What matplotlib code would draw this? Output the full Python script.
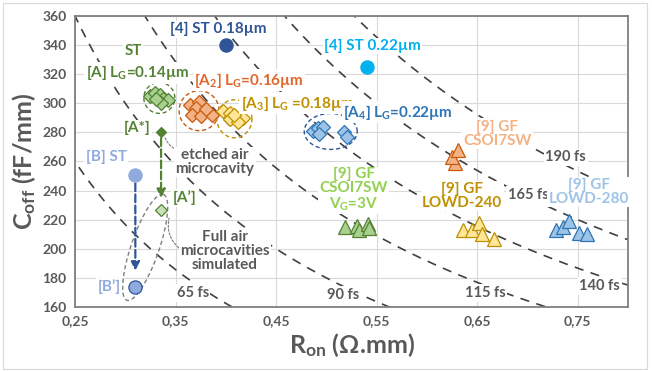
import numpy as np
import matplotlib
matplotlib.use("Agg")
import matplotlib.pyplot as plt
from matplotlib.patches import Rectangle

plt.rcParams['font.family'] = ['Lato', 'DejaVu Sans']
plt.rcParams['font.weight'] = 'bold'
plt.rcParams['axes.labelweight'] = 'bold'
plt.rcParams['mathtext.fontset'] = 'custom'
plt.rcParams['mathtext.rm'] = 'Lato:bold'
plt.rcParams['mathtext.it'] = 'Lato:bold'
plt.rcParams['mathtext.bf'] = 'Lato:bold'

# ---------------------------------------------------------------- data
tau_fs = [65, 90, 115, 140, 165, 190]
xticks = [0.25, 0.35, 0.45, 0.55, 0.65, 0.75]
xtick_labels = ["0,25", "0,35", "0,45", "0,55", "0,65", "0,75"]

A_R = [0.325, 0.330, 0.335, 0.338, 0.342, 0.336, 0.331]
A_C = [305, 307, 306, 303, 302, 300, 303]
A2_R = [0.364, 0.373, 0.370, 0.366, 0.375, 0.386, 0.380]
A2_C = [299, 301, 297, 292, 291, 292, 296]
A3_R = [0.397, 0.404, 0.411, 0.417, 0.404, 0.412, 0.408]
A3_C = [295, 293, 290, 290, 289, 287, 292]
A4_R = [0.487, 0.492, 0.497, 0.493, 0.518, 0.521]
A4_C = [281, 283, 284, 279, 280, 277]

ST18 = (0.400, 340)
ST22 = (0.540, 325)
B_ST = (0.310, 251)
B_P = (0.310, 174)
A_STAR = (0.3356, 280)
A_P = (0.3356, 227)

GF_CSOI_R = [0.628, 0.625, 0.631]
GF_CSOI_C = [259, 263, 268]
GF_VG_R = [0.519, 0.530, 0.532, 0.541, 0.542]
GF_VG_C = [215, 216, 213, 217, 214]
GF_240_R = [0.636, 0.645, 0.652, 0.655, 0.667]
GF_240_C = [213, 213, 218, 210, 207]
GF_280_R = [0.728, 0.735, 0.741, 0.751, 0.759]
GF_280_C = [213, 215, 219, 211, 210]

# ---------------------------------------------------------------- colours
DKGREEN, LTGREEN, LIMEGREEN = "#548235", "#A9D18E", "#92D050"
DKORANGE, LTORANGE = "#C55A11", "#F4B183"
DKYELLOW, LTYELLOW = "#BF9000", "#FFE699"
DKBLUE, MIDBLUE, LTBLUE = "#2F5597", "#2E75B6", "#9DC3E6"
CYAN, BLUEGREY = "#00B0F0", "#8FAADC"
GREY = "#595959"

W, H = 652, 371
L, R_, T, B = 75, 628, 16, 307
XMIN, XMAX, YMIN, YMAX = 0.25, 0.80, 160, 360
PX_R = (R_ - L) / (XMAX - XMIN)
PX_C = (B - T) / (YMAX - YMIN)

fig = plt.figure(figsize=(W / 100, H / 100), dpi=100)
ax = fig.add_axes([L / W, 1 - B / H, (R_ - L) / W, (B - T) / H])
fig.patches.append(Rectangle((3 / W, 2 / H), 644 / W, 366 / H, transform=fig.transFigure,
                             fill=False, edgecolor="#D9D9D9", linewidth=0.8))

ax.set_xlim(XMIN, XMAX)
ax.set_ylim(YMIN, YMAX)
ax.set_xticks(xticks)
ax.set_xticklabels(xtick_labels)
ax.set_yticks(np.arange(160, 361, 20))
ax.tick_params(length=0, labelsize=10, labelcolor=GREY, pad=6)
for lab in ax.get_xticklabels() + ax.get_yticklabels():
    lab.set_fontweight("bold")
ax.grid(True, color="#D9D9D9", linewidth=0.8)
ax.set_axisbelow(True)
for sp in ax.spines.values():
    sp.set_edgecolor("#7F7F7F")
    sp.set_linewidth(1.3)

ax.set_xlabel(r"R$_{\mathrm{on}}$ (Ω.mm)", fontsize=18, color=GREY, labelpad=3, fontweight="bold")
ax.set_ylabel(r"C$_{\mathrm{off}}$ (fF/mm)", fontsize=18, color=GREY, labelpad=3, fontweight="bold")

# iso-delay curves  Ron * Coff = tau
r = np.linspace(0.22, 0.85, 400)
for tau in tau_fs:
    ax.plot(r, tau / r, color="#404040", lw=1.2, ls=(0, (5.5, 4.5)), zorder=1)

curve_lab = {65: (0.367, 169.6), 90: (0.517, 168.2), 115: (0.658, 169.6),
             140: (0.772, 174.4), 165: (0.701, 237), 190: (0.738, 263)}
for tau, (x, y) in curve_lab.items():
    ax.text(x, y, f"{tau} fs", fontsize=10.5, color=GREY, ha="center", va="center",
            bbox=dict(facecolor="white", edgecolor="none", pad=1.2), zorder=2)

# helper ellipse drawn in pixel space
def ellipse(cx, cy, w_px, h_px, ang_deg, color):
    t = np.linspace(0, 2 * np.pi, 200)
    a = np.deg2rad(ang_deg)
    dx = w_px / 2 * np.cos(t) * np.cos(a) - h_px / 2 * np.sin(t) * np.sin(a)
    dy = w_px / 2 * np.cos(t) * np.sin(a) + h_px / 2 * np.sin(t) * np.cos(a)
    ax.plot(cx + dx / PX_R, cy + dy / PX_C, color=color, lw=1.0, ls=(0, (3, 2)), zorder=3)

ellipse(np.mean(A_R), np.mean(A_C), 31, 31, 0, DKGREEN)
ellipse(np.mean(A2_R), np.mean(A2_C) - 0.5, 40, 40, 0, DKORANGE)
ellipse(np.mean(A3_R) + 0.001, np.mean(A3_C) - 1.5, 35, 38, 0, DKYELLOW)
ellipse(np.mean(A4_R) + 0.003, np.mean(A4_C), 53, 36, 0, DKBLUE)
ellipse((A_P[0] + B_P[0]) / 2 - 0.003, (A_P[1] + B_P[1]) / 2 + 0.5, 112, 28, 71, "#7F7F7F")

# arrows
ax.annotate("", xy=(A_STAR[0], 235), xytext=(A_STAR[0], A_STAR[1] - 4),
            arrowprops=dict(arrowstyle="-|>,head_length=0.5,head_width=0.25", color=DKGREEN,
                            lw=1.6, ls=(0, (3.5, 1.5)), shrinkA=0, shrinkB=0), zorder=4)
ax.annotate("", xy=(B_ST[0], 185), xytext=(B_ST[0], B_ST[1] - 6),
            arrowprops=dict(arrowstyle="-|>,head_length=0.5,head_width=0.25", color=DKBLUE,
                            lw=1.6, ls=(0, (3.5, 1.5)), shrinkA=0, shrinkB=0), zorder=4)

# markers
def pts(xs, ys, marker, face, edge, ms, z=5):
    ax.plot(xs, ys, ls="none", marker=marker, ms=ms, markerfacecolor=face,
            markeredgecolor=edge, markeredgewidth=0.9, zorder=z)

pts(A_R, A_C, "D", LTGREEN, DKGREEN, 7)
pts(A2_R, A2_C, "D", LTORANGE, DKORANGE, 7)
pts(A3_R, A3_C, "D", LTYELLOW, DKYELLOW, 7)
pts(A4_R, A4_C, "D", LTBLUE, MIDBLUE, 7)
pts([A_STAR[0]], [A_STAR[1]], "D", DKGREEN, DKGREEN, 5.5)
pts([A_P[0]], [A_P[1]], "D", "#C5E0B4", DKGREEN, 6.0)
pts([ST18[0]], [ST18[1]], "o", DKBLUE, DKBLUE, 9.5)
pts([ST22[0]], [ST22[1]], "o", CYAN, CYAN, 9.5)
pts([B_ST[0]], [B_ST[1]], "o", BLUEGREY, BLUEGREY, 9.5)
pts([B_P[0]], [B_P[1]], "o", BLUEGREY, DKBLUE, 9.5)
pts(GF_CSOI_R, GF_CSOI_C, "^", LTORANGE, DKORANGE, 9.5)
pts(GF_VG_R, GF_VG_C, "^", LTGREEN, DKGREEN, 9.5)
pts(GF_240_R, GF_240_C, "^", LTYELLOW, DKYELLOW, 9.5)
pts(GF_280_R, GF_280_C, "^", LTBLUE, MIDBLUE, 9.5)

# labels
bb = dict(facecolor="white", edgecolor="none", pad=1.0)
labels = [
    ("[4] ST 0.18µm", (0.392, 351), DKBLUE),
    ("ST", (0.308, 336), DKGREEN),
    (r"[A] L$_G$=0.14µm", (0.312, 321), DKGREEN),
    (r"[A$_2$] L$_G$=0.16µm", (0.423, 316), "#E2662A"),
    (r"[A$_3$] L$_G$ =0.18µm", (0.471, 300.2), DKYELLOW),
    (r"[A$_4$] L$_G$=0.22µm", (0.571, 294), MIDBLUE),
    ("[4] ST 0.22µm", (0.546, 339.4), CYAN),
    ("[A*]", (0.312, 283), DKGREEN),
    ("[B] ST", (0.281, 263), BLUEGREY),
    ("[A’]", (0.359, 235), DKGREEN),
    ("[B’]", (0.284, 173.7), BLUEGREY),
    ("[9] GF\nCSOI7SW", (0.670, 279), LTORANGE),
    ("[9] GF\nCSOI7SW\n" + r"V$_G$=3V", (0.527, 240.4), LIMEGREEN),
    ("[9] GF\nLOWD-240", (0.635, 236.3), DKYELLOW),
    ("[9] GF\nLOWD-280", (0.761, 239), LTBLUE),
]
for txt, (x, y), c in labels:
    ax.text(x, y, txt, fontsize=11, color=c, ha="center", va="center",
            linespacing=1.0, bbox=bb, zorder=6)

# notes with dashed leaders (leader starts at the text box edge)
ax.annotate("etched air\nmicrocavity", xy=(A_STAR[0] + 0.003, A_STAR[1] - 2), xytext=(0.389, 259.7),
            fontsize=11, color=GREY, ha="center", va="center", linespacing=1.0,
            arrowprops=dict(arrowstyle="-", color="#7F7F7F", lw=0.8, ls=(0, (2, 1.5)),
                            connectionstyle="arc3,rad=-0.25", shrinkA=0, shrinkB=2,
                            relpos=(0.05, 0.9)),
            bbox=bb, zorder=6)
ax.annotate("Full air\nmicrocavities\nsimulated", xy=(0.3435, 221), xytext=(0.399, 198.5),
            fontsize=11, color=GREY, ha="center", va="center", linespacing=1.0,
            arrowprops=dict(arrowstyle="-", color="#7F7F7F", lw=0.8, ls=(0, (2, 1.5)),
                            connectionstyle="arc3,rad=-0.3", shrinkA=0, shrinkB=0,
                            relpos=(0.0, 0.55)),
            bbox=bb, zorder=6)

fig.savefig("out.png", dpi=100)
